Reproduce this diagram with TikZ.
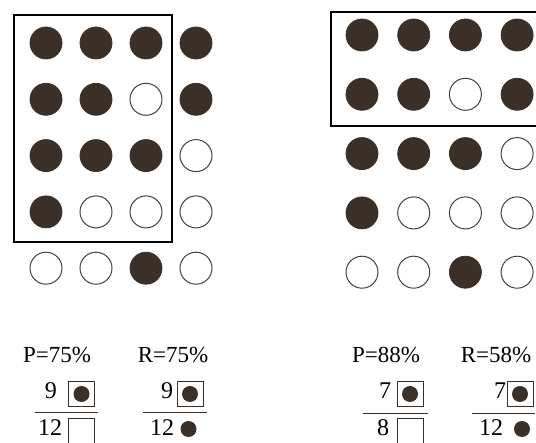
\documentclass[tikz,border=0pt]{standalone}
\usepackage{fontspec}
\setmainfont{Liberation Serif}
\usetikzlibrary{positioning}
\definecolor{mydark}{RGB}{58,48,40}
\definecolor{myring}{RGB}{70,64,60}
\tikzset{
  dot1/.style={circle, draw=mydark, fill=mydark, minimum size=32pt,
    inner sep=0pt, line width=0.8pt},
  dot0/.style={circle, draw=myring, fill=white, minimum size=32pt,
    inner sep=0pt, line width=1pt},
  frame/.style={draw=black, line width=2.4pt},
  lbl/.style={font=\fontsize{23}{23}\selectfont, inner sep=0pt},
  num/.style={font=\fontsize{24}{24}\selectfont, inner sep=0pt},
  markbox/.style={rectangle, draw=mydark, line width=0.9pt,
    minimum width=26pt, minimum height=25pt, inner sep=0pt},
  smalldot/.style={circle, fill=mydark, minimum size=16pt, inner sep=0pt},
  bar/.style={line width=0.9pt, color=mydark}
}
\begin{document}
\begin{tikzpicture}[x=1pt, y=-1pt]
  \useasboundingbox (0,0) rectangle (536,443);

  % Both grids (same pattern)
  \foreach \r/\row in {1/{1,1,1,1}, 2/{1,1,0,1}, 3/{1,1,1,0}, 4/{1,0,0,0}, 5/{0,0,1,0}} {
    \foreach \v [count=\c] in \row {
      \node[dot\v] (L\r\c) at ({46+50*(\c-1)}, {43+56.3*(\r-1)}) {};
      \node[dot\v] (R\r\c) at ({362+51.7*(\c-1)}, {35+59.3*(\r-1)}) {};
    }
  }

  % Frames
  \draw[frame] (14,15) rectangle (172,242);
  \draw[frame] (545,12) -- (331,12) -- (331,126) -- (545,126);

  % Labels
  \node[lbl] (pL) at (57,355) {P=75\%};
  \node[lbl] (rL) at (173,355) {R=75\%};
  \node[lbl] (pR) at (386,355) {P=88\%};
  \node[lbl] (rR) at (496,355) {R=58\%};

  % Left precision
  \node[num] (pLnum) at (51,391) {9};
  \node[markbox] (pLbox) at (81.5,394) {};
  \node[smalldot] (pLhit) at (pLbox) {};
  \draw[bar] (35,412) -- (98,412);
  \node[num] (pLden) at (50,428) {12};
  \node[markbox, minimum height=28pt] (pLgap) at (81.5,432) {};

  % Left recall
  \node[num] (rLnum) at (167,391) {9};
  \node[markbox] (rLbox) at (190,394) {};
  \node[smalldot] (rLhit) at (rLbox) {};
  \draw[bar] (143,412) -- (207,412);
  \node[num] (rLden) at (162,428) {12};
  \node[smalldot] (rLall) at (188.5,429) {};

  % Right precision
  \node[num] (pRnum) at (385,391) {7};
  \node[markbox] (pRbox) at (410,394) {};
  \node[smalldot] (pRhit) at (pRbox) {};
  \draw[bar] (363,413) -- (428,413);
  \node[num] (pRden) at (383,428) {8};
  \node[markbox, minimum height=28pt] (pRgap) at (410,432) {};

  % Right recall
  \node[num] (rRnum) at (500,391) {7};
  \node[markbox] (rRbox) at (520,394) {};
  \node[smalldot] (rRhit) at (rRbox) {};
  \draw[bar] (472,413) -- (535,413);
  \node[num] (rRden) at (491,428) {12};
  \node[smalldot] (rRall) at (522,429) {};
\end{tikzpicture}
\end{document}
